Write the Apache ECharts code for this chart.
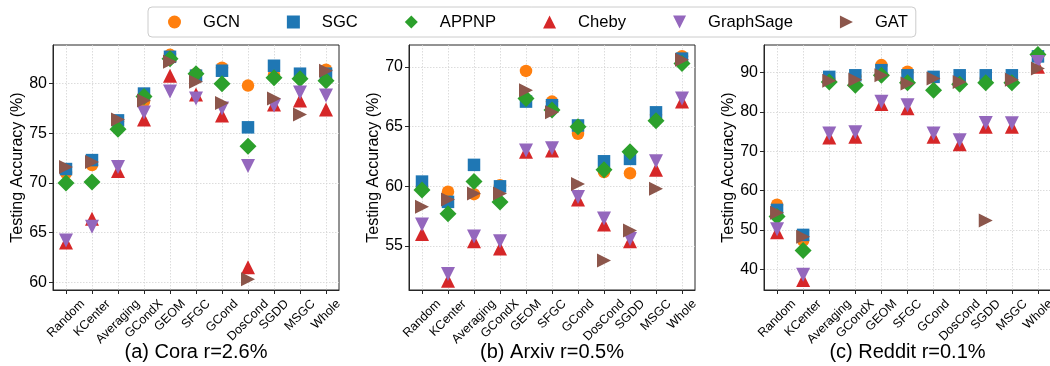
<!DOCTYPE html>
<html>
<head>
<meta charset="utf-8">
<script src="https://cdn.jsdelivr.net/npm/echarts@6/dist/echarts.min.js"></script>
<style>
  html, body { margin: 0; padding: 0; background: #fff; }
  #chart { width: 1050px; height: 366px; }
</style>
</head>
<body>
<div id="chart"></div>
<script>
const methods = ["Random", "KCenter", "Averaging", "GCondX", "GEOM", "SFGC", "GCond", "DosCond", "SGDD", "MSGC", "Whole"];
const modelNames = ["GCN", "SGC", "APPNP", "Cheby", "GraphSage", "GAT"];
const panelTitles = ["(a) Cora r=2.6%", "(b) Arxiv r=0.5%", "(c) Reddit r=0.1%"];

// Cora r=2.6%
const coraGCN = [71.0, 71.8, 76.2, 78.2, 82.9, 81.0, 81.6, 79.8, 80.9, 80.6, 81.4];
const coraSGC = [71.4, 72.3, 76.3, 79.0, 82.7, 80.8, 81.3, 75.6, 81.8, 81.0, 81.0];
const coraAPPNP = [70.0, 70.1, 75.4, 78.7, 82.5, 81.0, 80.0, 73.7, 80.6, 80.5, 80.3];
const coraCheby = [64.0, 66.4, 71.2, 76.4, 80.8, 78.9, 76.8, 61.5, 77.9, 78.3, 77.4];
const coraGraphSage = [64.2, 65.6, 71.6, 77.1, 79.2, 78.5, 77.5, 71.7, 77.8, 79.1, 78.8];
const coraGAT = [71.6, 72.1, 76.4, 78.3, 82.2, 80.2, 78.05, 60.3, 78.5, 76.9, 81.3];

// Arxiv r=0.5%
const arxivGCN = [60.0, 59.55, 59.35, 60.1, 69.67, 67.1, 64.4, 61.2, 61.1, 66.0, 70.9];
const arxivSGC = [60.4, 58.7, 61.8, 60.0, 67.1, 66.8, 65.1, 62.1, 62.3, 66.2, 70.7];
const arxivAPPNP = [59.7, 57.7, 60.4, 58.7, 67.35, 66.4, 65.0, 61.4, 62.9, 65.5, 70.3];
const arxivCheby = [56.0, 52.1, 55.4, 54.8, 62.9, 63.0, 58.9, 56.8, 55.4, 61.4, 67.1];
const arxivGraphSage = [56.8, 52.65, 55.8, 55.4, 63.0, 63.2, 59.1, 57.3, 55.6, 62.1, 67.35];
const arxivGAT = [58.3, 58.9, 59.4, 59.4, 68.05, 66.2, 60.2, 53.8, 56.3, 59.8, 70.6];

// Reddit r=0.1%
const redditGCN = [56.4, 47.3, 88.5, 89.0, 91.9, 90.2, 88.7, 88.0, 88.5, 88.7, 94.1];
const redditSGC = [55.1, 48.75, 88.9, 89.3, 90.6, 89.3, 88.9, 89.3, 89.3, 89.3, 94.1];
const redditAPPNP = [53.4, 44.8, 87.6, 86.8, 89.3, 87.4, 85.5, 87.0, 87.4, 87.4, 94.6];
const redditCheby = [49.4, 37.3, 73.5, 73.7, 82.0, 80.9, 73.7, 71.8, 76.2, 76.2, 91.5];
const redditGraphSage = [50.2, 38.6, 74.5, 74.8, 82.6, 81.7, 74.5, 72.8, 77.2, 77.1, 92.7];
const redditGAT = [54.4, 48.3, 87.9, 88.2, 89.3, 87.2, 88.5, 87.6, 52.4, 88.2, 91.0];

const coraTicks = [60, 65, 70, 75, 80];
const arxivTicks = [55, 60, 65, 70];
const redditTicks = [40, 50, 60, 70, 80, 90];

const coraRange = [59.22, 83.89];
const arxivRange = [51.32, 71.84];
const redditRange = [34.75, 97.0];

const panels = [
  { series: [coraGCN, coraSGC, coraAPPNP, coraCheby, coraGraphSage, coraGAT], ticks: coraTicks, range: coraRange },
  { series: [arxivGCN, arxivSGC, arxivAPPNP, arxivCheby, arxivGraphSage, arxivGAT], ticks: arxivTicks, range: arxivRange },
  { series: [redditGCN, redditSGC, redditAPPNP, redditCheby, redditGraphSage, redditGAT], ticks: redditTicks, range: redditRange },
];

const FONT = '"Liberation Sans", Arial, sans-serif';
const colors = ["#ff7f0e", "#1f77b4", "#2ca02c", "#d62728", "#9467bd", "#8c564b"];
const symbols = ["circle", "rect", "diamond", "triangle", "path://M0,0L2,0L1,2Z", "path://M0,0L2,1L0,2Z"];
const symbolSizes = [12.5, 12.5, 17, 14, 14, 14];
const gridPos = [{ left: 53, width: 286 }, { left: 409, width: 286 }, { left: 764, width: 287 }];

// matplotlib centers rotated tick labels on the tick: pad each label by half its width
const LABEL_SIZE = 12.5;
const ctx = document.createElement("canvas").getContext("2d");
ctx.font = `${LABEL_SIZE}px "Liberation Sans"`;
const labelRich = {};
methods.forEach((m, i) => {
  const w = ctx.measureText(m).width;
  labelRich["r" + i] = { fontSize: LABEL_SIZE, fontFamily: FONT, color: "#000", padding: [w / 2, w / 2, 0, 0] };
});

const chart = echarts.init(document.getElementById("chart"));

const grid = [], xAxis = [], yAxis = [], series = [], title = [];
panels.forEach((p, k) => {
  grid.push({
    left: gridPos[k].left, width: gridPos[k].width, top: 45, height: 245,
    show: true, borderColor: "#262626", borderWidth: 1, outerBoundsMode: "none",
  });
  xAxis.push({
    type: "category", gridIndex: k, data: methods, boundaryGap: true,
    axisLine: { show: true, lineStyle: { color: "#262626", width: 1 } },
    axisTick: { show: true, alignWithLabel: true, interval: 0, length: 4, lineStyle: { color: "#262626" } },
    axisLabel: {
      interval: 0, rotate: 45, align: "center", verticalAlign: "middle", margin: 12,
      hideOverlap: false,
      formatter: (v, i) => `{r${i}|${v}}`, rich: labelRich,
    },
    splitLine: { show: true, interval: 0, alignWithLabel: true, lineStyle: { color: "#d3d3d3", type: [1.5, 1.5], width: 0.8 } },
  });
  yAxis.push({
    type: "value", gridIndex: k, min: p.range[0], max: p.range[1],
    name: "Testing Accuracy (%)", nameLocation: "middle", nameGap: 27,
    nameTextStyle: { fontSize: 16, fontFamily: FONT, color: "#000" },
    axisLine: { show: true, lineStyle: { color: "#262626", width: 1 } },
    axisTick: { show: true, length: 4, customValues: p.ticks, lineStyle: { color: "#262626" } },
    axisLabel: { customValues: p.ticks, fontSize: 16, fontFamily: FONT, color: "#000", margin: 6 },
    splitLine: { show: true, lineStyle: { color: "#d3d3d3", type: [1.5, 1.5], width: 0.8 } },
  });
  title.push({
    text: panelTitles[k], left: gridPos[k].left + gridPos[k].width / 2, top: 342,
    textAlign: "center", padding: 0,
    textStyle: { fontSize: 20, fontWeight: "normal", fontFamily: FONT, color: "#000" },
  });
  p.series.forEach((vals, j) => {
    series.push({
      type: "scatter", name: modelNames[j], xAxisIndex: k, yAxisIndex: k,
      data: vals, symbol: symbols[j], symbolSize: symbolSizes[j],
      itemStyle: { color: colors[j], opacity: 1 },
    });
  });
});

chart.setOption({
  animation: false,
  backgroundColor: "#fff",
  title,
  legend: {
    data: modelNames, left: 148, top: 7, orient: "horizontal",
    padding: [6.5, 8, 6.5, 20], itemGap: 47, itemWidth: 13, itemHeight: 13,
    borderColor: "#cccccc", borderWidth: 1, borderRadius: 4,
    textStyle: { fontSize: 16.6, fontFamily: FONT, color: "#000", padding: [0, 0, 0, 17] },
  },
  grid, xAxis, yAxis, series,
});
</script>
</body>
</html>
